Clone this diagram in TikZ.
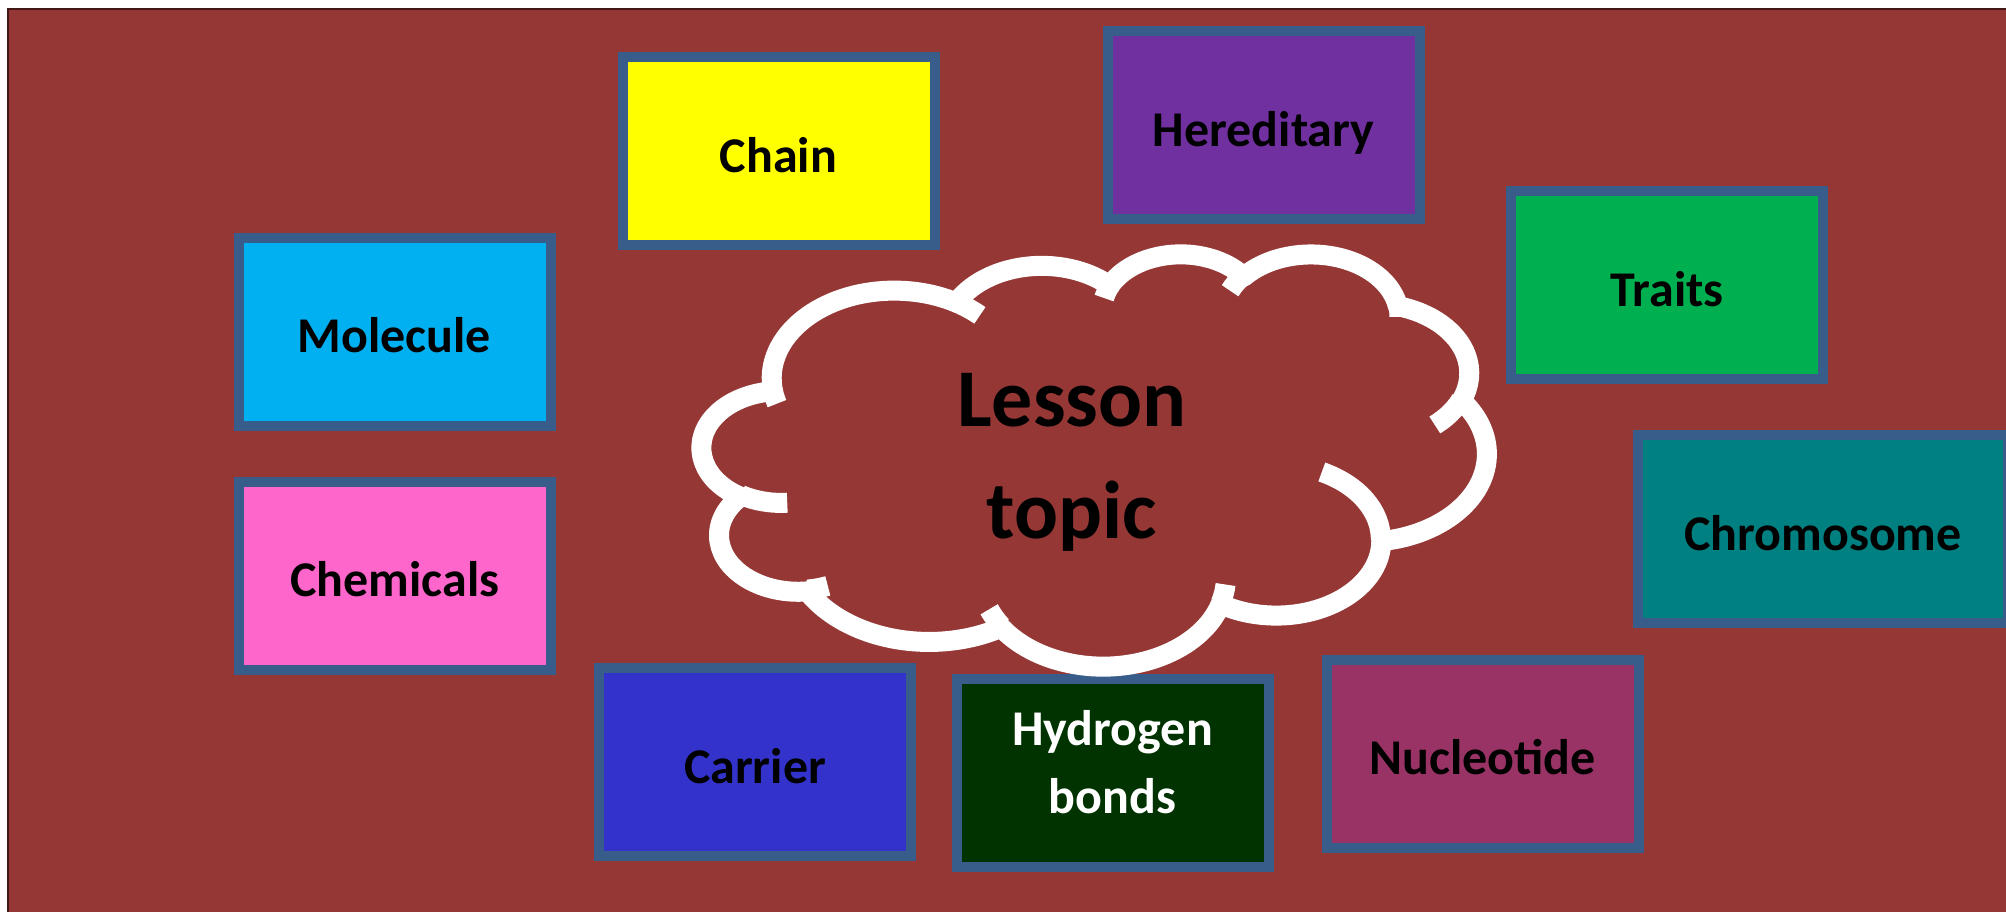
\documentclass[tikz,border=0pt]{standalone}
\usepackage{fontspec}
\setmainfont{Carlito}
\usetikzlibrary{positioning}
\definecolor{lessonbg}{HTML}{953735}
\definecolor{lessonedge}{HTML}{385D8A}
\definecolor{chainyellow}{HTML}{FFFF00}
\definecolor{heredpurple}{HTML}{7030A0}
\definecolor{traitgreen}{HTML}{00B050}
\definecolor{moleculeblue}{HTML}{00B0F0}
\definecolor{chempink}{HTML}{FF66CC}
\definecolor{chromoteal}{HTML}{008080}
\definecolor{carrierblue}{HTML}{3333CC}
\definecolor{hydrogreen}{HTML}{003300}
\definecolor{nucleoplum}{HTML}{993366}

% one puff of the cloud: x radius, y radius, start and sweep as seen
\newcommand\puffarc[4]{%
  \pgfmathsetmacro\puffst{atan2(#1*sin(#3),#2*cos(#3))}%
  \pgfmathsetmacro\puffen{atan2(#1*sin(#3+#4),#2*cos(#3+#4))}%
  \pgfmathsetmacro\puffen{\puffen+360*(\puffen<\puffst)}%
}
\newcommand\puff[4]{\pgfextra{\puffarc{#1}{#2}{#3}{#4}}
  arc[start angle=\puffst, end angle=\puffen, x radius=#1, y radius=#2]}

\begin{document}
\begin{tikzpicture}[
  x=0.5pt, y=-0.5pt,
  card/.style={draw=lessonedge, line width=5pt, inner sep=0pt,
               minimum width=156pt, minimum height=94pt, align=center,
               text height=21pt, text depth=0pt,
               font=\fontsize{25}{34}\selectfont\bfseries},
  cloudline/.style={draw=white, line width=10pt, line join=round},
  topictext/.style={align=center, font=\fontsize{41}{56}\selectfont\bfseries}
]
\useasboundingbox (0,0) rectangle (2006,911);
\fill[white] (0,0) rectangle (2006,911);
\filldraw[fill=lessonbg, draw=black!55!lessonbg, line width=1pt] (8,9) rectangle (2014,919);

% words round the topic
\node[card, fill=chainyellow] (chain) at (778.5,151) {Chain};
\node[card, fill=heredpurple] (hereditary) at (1263.5,125) {Hereditary};
\node[card, fill=traitgreen] (traits) at (1667,285) {Traits};
\node[card, fill=moleculeblue] (molecule) at (394.5,331.5) {Molecule};
\node[card, fill=chempink] (chemicals) at (395,575.5) {Chemicals};
\node[card, fill=chromoteal, minimum width=185pt] (chromosome) at (1823,529) {Chromosome};
\node[card, fill=carrierblue] (carrier) at (755,762) {Carrier};
\node[card, fill=hydrogreen, text=white, text height=40.5pt] (hydrogen) at (1112.5,772.5) {Hydrogen\\bonds};
\node[card, fill=nucleoplum] (nucleotide) at (1482.5,753.5) {Nucleotide};

% cloud
\begin{scope}[shift={(702,253)}, x=0.0908pt, y=-0.0477pt]
\draw[cloudline, fill=lessonbg] (390,1437)
  \puff{675.3}{919.0}{-190.4875}{123.7805}
  \puff{533.3}{726.7}{-144.1024}{89.9452}
  \puff{436.5}{594.5}{-145.8079}{99.7230}
  \puff{485.7}{659.5}{-130.9861}{117.2417}
  \puff{533.3}{727.3}{-78.7089}{109.0269}
  \puff{677.5}{922.0}{-46.2673}{130.2690}
  \puff{578.5}{786.7}{0.6250}{114.0333}
  \puff{675.2}{921.5}{22.4516}{115.1726}
  \puff{772.0}{1054.3}{66.2426}{75.7110}
  \puff{436.0}{591.8}{-274.9421}{146.7356}
  \puff{434.5}{594.5}{-246.8285}{152.5189} -- cycle;
\draw[cloudline]
  (469.3,2617.7) \puff{434.5}{594.5}{86.7420}{26.4295}
  (692.8,3489.9) \puff{436.0}{591.8}{73.6105}{11.4475}
  (1647.8,3909.0) \puff{675.2}{921.5}{137.6242}{14.0811}
  (2882.7,3475.1) \puff{675.2}{921.5}{6.4533}{15.9984}
  (3412.9,2295.4) \puff{578.5}{786.7}{-70.2924}{70.9174}
  (4179.8,1535.4) \puff{533.3}{727.3}{30.3180}{27.7515}
  (3832.4,542.6) \puff{485.7}{659.5}{-13.7443}{14.8589}
  (2907.8,395.2) \puff{485.7}{659.5}{-149.1815}{18.1954}
  (2214.1,472.0) \puff{436.5}{594.5}{-163.4943}{17.6864}
  (1400.0,519.2) \puff{675.3}{919.0}{-66.7070}{12.3194}
  (412.7,1578.9) \puff{675.3}{919.0}{157.6544}{11.8582};
\end{scope}
\node[topictext] (topic) at (1072,462) {Lesson\\topic};
\end{tikzpicture}
\end{document}
